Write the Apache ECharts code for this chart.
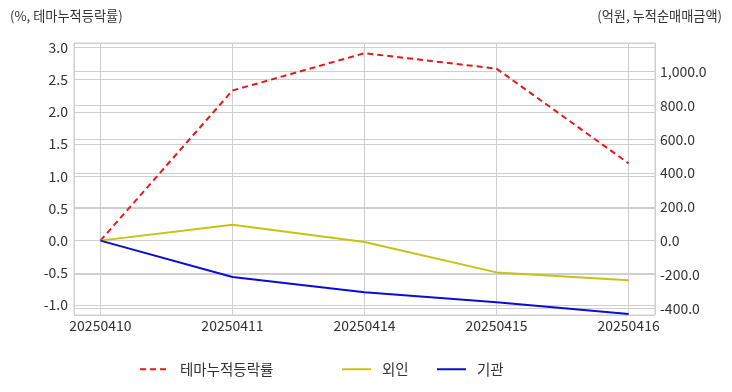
<!DOCTYPE html>
<html><head><meta charset="utf-8">
<script src="https://cdn.jsdelivr.net/npm/echarts@6/dist/echarts.min.js"></script>
<style>html,body{margin:0;padding:0;background:#fff}#c{width:732px;height:392px}</style>
</head><body><div id="c"></div>
<script>
const categories = ['20250410','20250411','20250414','20250415','20250416'];
const themeRate = [0, 2.33, 2.91, 2.67, 1.20];
const foreign = [0, 94, -8, -188, -235];
const institution = [0, -215, -306, -365, -434];
const seriesNames = ['테마누적등락률','외인','기관'];
const leftTitle = '(%, 테마누적등락률)';
const rightTitle = '(억원, 누적순매매금액)';

const FONT = "'Noto Sans CJK KR', 'Noto Sans', sans-serif";
const TXT = '#333';
const GRID = '#cfcfcf';
function fmtNum(v){
  const s = Math.abs(v).toFixed(1);
  const [i,d] = s.split('.');
  const ii = i.replace(/\B(?=(\d{3})+(?!\d))/g, ',');
  return (v < 0 ? '-' : '') + ii + '.' + d;
}
const chart = echarts.init(document.getElementById('c'));
const xy = arr => arr.map((v,i)=>[i,v]);
const legendBase = {itemHeight: 12, itemWidth: 29, padding: 0, itemStyle:{opacity:0}, textStyle:{fontSize:14.5,color:TXT,fontFamily:FONT, padding:[0,0,0,6]}};
chart.setOption({
  animation: false,
  textStyle: {fontFamily: FONT},
  grid: {left: 74, right: 77, top: 43, bottom: 77, show: true, borderColor: GRID, borderWidth: 1},
  graphic: [
    {type:'text', left: 10, top: 9, style:{text: leftTitle, fontSize: 13.2, fill: TXT, fontFamily: FONT}},
    {type:'text', right: 10, top: 9, style:{text: rightTitle, fontSize: 13.2, fill: TXT, fontFamily: FONT}}
  ],
  legend: [
    Object.assign({data:[seriesNames[0]], left: 139, top: 362}, legendBase),
    Object.assign({data:[seriesNames[1]], left: 341, top: 362}, legendBase),
    Object.assign({data:[seriesNames[2]], left: 436, top: 362}, legendBase)
  ],
  xAxis: {
    type: 'value', min: -0.2, max: 4.2, splitNumber: 4,
    axisLine: {show: false}, axisTick: {show: false},
    splitLine: {show: true, lineStyle: {color: GRID}},
    axisLabel: {
      color: TXT, fontSize: 14, margin: 4, showMinLabel: false, showMaxLabel: false,
      formatter: v => (Number.isInteger(v) && categories[v]) ? categories[v] : ''
    }
  },
  yAxis: [
    {type:'value', position:'left', min: -1.155, max: 3.068, splitNumber: 8,
     axisLine:{show:false}, axisTick:{show:false},
     splitLine:{lineStyle:{color: GRID}},
     axisLabel:{color:TXT, fontSize:14, margin:6, showMinLabel:false, showMaxLabel:false, formatter: v => v.toFixed(1)}},
    {type:'value', position:'right', min: -440, max: 1169, splitNumber: 8,
     axisLine:{show:false}, axisTick:{show:false},
     splitLine:{lineStyle:{color: GRID}},
     axisLabel:{color:TXT, fontSize:14, margin:5, showMinLabel:false, showMaxLabel:false, formatter: v => fmtNum(v)}}
  ],
  series: [
    {name: seriesNames[0], type:'line', yAxisIndex:0, data: xy(themeRate), symbol:'none',
     lineStyle:{color:'#e61919', width:2, type:[6,4]}, itemStyle:{color:'#e61919'}},
    {name: seriesNames[1], type:'line', yAxisIndex:1, data: xy(foreign), symbol:'none',
     lineStyle:{color:'#c4c414', width:2}, itemStyle:{color:'#c4c414'}},
    {name: seriesNames[2], type:'line', yAxisIndex:1, data: xy(institution), symbol:'none',
     lineStyle:{color:'#0c0cd4', width:2}, itemStyle:{color:'#0c0cd4'}}
  ]
});
</script></body></html>
